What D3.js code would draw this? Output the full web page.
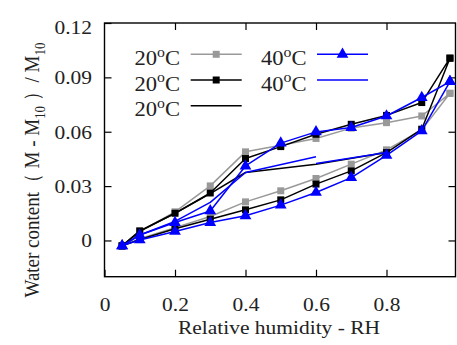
<!DOCTYPE html>
<html><head><meta charset="utf-8">
<script src="https://cdn.jsdelivr.net/npm/d3@7"></script>
<style>
html,body{margin:0;padding:0;background:#fff;}
svg{display:block;}
text{font-family:"Liberation Serif","Times New Roman",serif;fill:#222;}
</style></head>
<body>
<svg id="chart" width="457" height="345"></svg>
<script>
// ---- data ----
const rh = [0.05, 0.1, 0.2, 0.3, 0.4, 0.5, 0.6, 0.7, 0.8, 0.9, 0.98];
const gray20Ads  = [-0.003, 0.0010, 0.0070, 0.0132, 0.0213, 0.0274, 0.0342, 0.0421, 0.0500, 0.0610, 0.0812];
const gray20Des  = [-0.003, 0.0050, 0.0158, 0.0301, 0.0489, 0.0525, 0.0563, 0.0620, 0.0650, 0.0687, 0.0812];
const black20Ads = [-0.003, 0.0005, 0.0065, 0.0117, 0.0169, 0.0224, 0.0311, 0.0384, 0.0485, 0.0614, 0.1006];
const black20Des = [-0.003, 0.0053, 0.0150, 0.0262, 0.0452, 0.0518, 0.0586, 0.0641, 0.0690, 0.0761, 0.1006];
const blue40Ads  = [-0.003, 0.0003, 0.0050, 0.0099, 0.0136, 0.0195, 0.0265, 0.0347, 0.0470, 0.0605, 0.0877];
const blue40Des  = [-0.003, 0.0030, 0.0099, 0.0163, 0.0411, 0.0537, 0.0599, 0.0623, 0.0687, 0.0789, 0.0877];
const black20LineRH = [0.05, 0.1, 0.2, 0.3, 0.4, 0.6, 0.8];
const black20Line   = [-0.003, 0.005, 0.015, 0.0258, 0.0375, 0.0420, 0.0485];
const blue40LineRH  = [0.05, 0.1, 0.2, 0.3, 0.4, 0.6];
const blue40Line    = [-0.003, 0.003, 0.0105, 0.0210, 0.0375, 0.0462];
const blue40Line2RH = [0.6, 0.8];
const blue40Line2   = [0.0425, 0.0485];
const xTicks = [0, 0.2, 0.4, 0.6, 0.8];
const yTicks = [0, 0.03, 0.06, 0.09, 0.12];
const legendLabels = ["20", "20", "20", "40", "40"];

// ---- layout ----
const L = 104.5, R = 455.5, T = 23, B = 276.7;
const SX = 1.13; // horizontal text stretch
const svg = d3.select("#chart");
const x = d3.scaleLinear().domain([0, 1]).range([L, 457]);
const y = d3.scaleLinear().domain([-0.02, 0.12]).range([B, T]);

const loop = (ads, des) => rh.map((r,i)=>[r, ads[i]]).concat(rh.map((r,i)=>[r, des[i]]).reverse());
const pairs = (xs, ys) => xs.map((r,i)=>[r, ys[i]]);
const line = d3.line().x(d=>x(d[0])).y(d=>y(d[1]));

// axes (inward ticks, mirrored)
const fmt = d => d === 0 ? "0" : String(d);
const gx = svg.append("g").attr("transform",`translate(0,${B})`)
  .call(d3.axisBottom(x).tickValues(xTicks).tickSize(-7).tickSizeOuter(0).tickFormat(fmt));
const gy = svg.append("g").attr("transform",`translate(${L},0)`)
  .call(d3.axisLeft(y).tickValues(yTicks).tickSize(-7).tickSizeOuter(0).tickFormat(fmt));
svg.append("g").attr("transform",`translate(0,${T})`)
  .call(d3.axisTop(x).tickValues(xTicks.slice(1)).tickSize(-7).tickSizeOuter(0).tickFormat(""));
svg.append("g").attr("transform",`translate(${R},0)`)
  .call(d3.axisRight(y).tickValues(yTicks.slice(0,4)).tickSize(-7).tickSizeOuter(0).tickFormat(""));
svg.selectAll(".domain").remove();
svg.selectAll(".tick line").attr("stroke","#000").attr("stroke-width",1.2);

gx.selectAll(".tick text").each(function(d){
  d3.select(this).attr("x",null).attr("y",null).attr("dy",null)
    .attr("text-anchor","middle").attr("font-size",19).attr("fill","#222")
    .attr("transform",`translate(0,${310.5-B}) scale(${SX},1)`);
});
gy.selectAll(".tick text").each(function(d){
  const shift = d === 0.12 ? 4 : 0;
  d3.select(this).attr("x",null).attr("y",null).attr("dy","0.33em")
    .attr("text-anchor","end").attr("font-size",19).attr("fill","#222")
    .attr("transform",`translate(${92-L},${shift}) scale(${SX},1)`);
});

svg.append("rect").attr("x",L).attr("y",T).attr("width",R-L).attr("height",B-T)
  .attr("fill","none").attr("stroke","#000").attr("stroke-width",1.4);

// series
const plot = svg.append("g");
function drawSeries(data, color, marker){
  plot.append("path").attr("d", line(data)).attr("fill","none")
    .attr("stroke",color).attr("stroke-width",1.5).attr("stroke-linejoin","round");
  if (marker) {
    plot.append("g").selectAll("path").data(data).join("path")
      .attr("d", d3.symbol().type(marker).size(marker===d3.symbolSquare?49:60)())
      .attr("transform", d=>`translate(${x(d[0])},${y(d[1])})`)
      .attr("fill", color);
  }
}
drawSeries(loop(gray20Ads, gray20Des), "#999999", d3.symbolSquare);
drawSeries(loop(black20Ads, black20Des), "#000000", d3.symbolSquare);
drawSeries(pairs(black20LineRH, black20Line), "#000000", null);
drawSeries(loop(blue40Ads, blue40Des), "#0000ff", d3.symbolTriangle);
drawSeries(pairs(blue40LineRH, blue40Line), "#0000ff", null);
drawSeries(pairs(blue40Line2RH, blue40Line2), "#0000ff", null);

// legend
const legItems = [
  {t:legendLabels[0], c:"#999999", m:d3.symbolSquare, col:0, row:0},
  {t:legendLabels[1], c:"#000000", m:d3.symbolSquare, col:0, row:1},
  {t:legendLabels[2], c:"#000000", m:null, col:0, row:2},
  {t:legendLabels[3], c:"#0000ff", m:d3.symbolTriangle, col:1, row:0},
  {t:legendLabels[4], c:"#0000ff", m:null, col:1, row:1}
];
const colTextR = [180, 306.5], colLineX = [190.7, 317], rowY = [54.3, 80, 105.7];
legItems.forEach(it=>{
  const ly = rowY[it.row], lx = colLineX[it.col];
  svg.append("line").attr("x1",lx).attr("x2",lx+51).attr("y1",ly).attr("y2",ly)
    .attr("stroke",it.c).attr("stroke-width",1.5);
  if (it.m) svg.append("path").attr("d", d3.symbol().type(it.m).size(it.m===d3.symbolSquare?49:60)())
    .attr("transform",`translate(${lx+25.5},${ly})`).attr("fill",it.c);
  const t = svg.append("text").attr("text-anchor","end").attr("font-size",20)
    .attr("transform",`translate(${colTextR[it.col]},${ly+10.7}) scale(${SX},1)`);
  t.append("tspan").text(it.t);
  t.append("tspan").attr("font-size",14).attr("dy",-8.5).text("o");
  t.append("tspan").attr("dy",8.5).text("C");
});

// axis titles
svg.append("text").attr("text-anchor","middle").attr("font-size",19)
  .attr("transform",`translate(279,334) scale(${SX},1)`).text("Relative humidity - RH");
const yt = svg.append("text").attr("text-anchor","middle").attr("font-size",19)
  .attr("transform",`translate(39,170) scale(${SX},1) rotate(-90)`);
yt.append("tspan").text("Water content（ M - M");
yt.append("tspan").attr("font-size",13).attr("dy",5).text("10");
yt.append("tspan").attr("dy",-5).text(" ）/ M");
yt.append("tspan").attr("font-size",13).attr("dy",5).text("10");
</script>
</body></html>
